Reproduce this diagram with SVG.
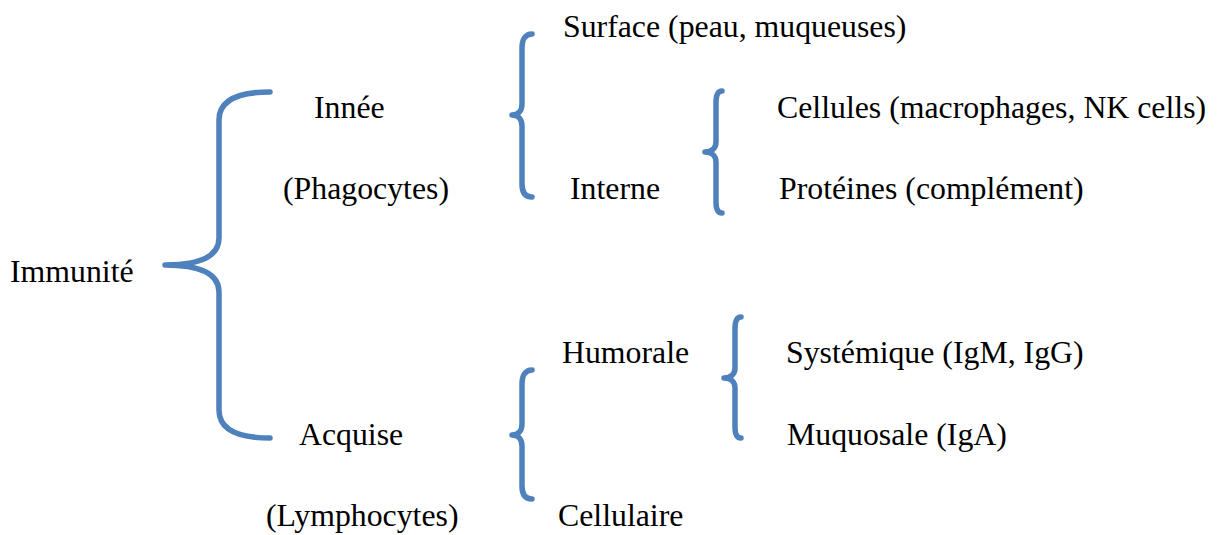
<svg xmlns="http://www.w3.org/2000/svg" width="1218" height="535" viewBox="0 0 1218 535">
<style>
text { font-family: "Liberation Serif", "Times New Roman", serif; font-size: 31.8px; fill: #000; }
.brace { fill: none; stroke: #4F81BD; stroke-width: 5.5; stroke-linecap: round; stroke-linejoin: round; }
</style>
<rect width="1218" height="535" fill="#fff"/>
<g id="connectors">
<path class="brace" d="M270,92 C238,92 219,100 219,120 L219,238 C219,256 200,265 165,265 C200,265 219,274 219,292 L219,410 C219,430 238,438 270,438"/>
<path class="brace" d="M532,34 C525,34 522,40 522,48 L522,104 C522,111 518,115 512,115 C518,115 522,119 522,126 L522,184 C522,192 525,197 532,197"/>
<path class="brace" d="M722,91 C718,91 716,96 716,103 L716,142 C716,148 712,152 705,152 C712,152 716,156 716,162 L716,202 C716,209 718,213 722,213"/>
<path class="brace" d="M532,370 C525,370 522,376 522,384 L522,424 C522,431 518,435 512,435 C518,435 522,439 522,446 L522,486 C522,494 525,499 532,499"/>
<path class="brace" d="M741,317 C737,317 735,322 735,329 L735,368 C735,374 731,378 724,378 C731,378 735,382 735,388 L735,427 C735,434 737,438 741,438"/>
</g>
<g id="immunite"><text x="10" y="282">Immunité</text></g>
<g id="innee"><text x="314" y="118">Innée</text></g>
<g id="phagocytes"><text x="283" y="199">(Phagocytes)</text></g>
<g id="acquise"><text x="299" y="445">Acquise</text></g>
<g id="lymphocytes"><text x="266" y="526">(Lymphocytes)</text></g>
<g id="surface"><text x="563" y="37">Surface (peau, muqueuses)</text></g>
<g id="interne"><text x="570" y="199">Interne</text></g>
<g id="cellules"><text x="777" y="118">Cellules (macrophages, NK cells)</text></g>
<g id="proteines"><text x="779" y="199">Protéines (complément)</text></g>
<g id="humorale"><text x="562" y="363">Humorale</text></g>
<g id="cellulaire"><text x="558" y="526">Cellulaire</text></g>
<g id="systemique"><text x="786" y="363">Systémique (IgM, IgG)</text></g>
<g id="muquosale"><text x="787" y="445">Muquosale (IgA)</text></g>
</svg>
